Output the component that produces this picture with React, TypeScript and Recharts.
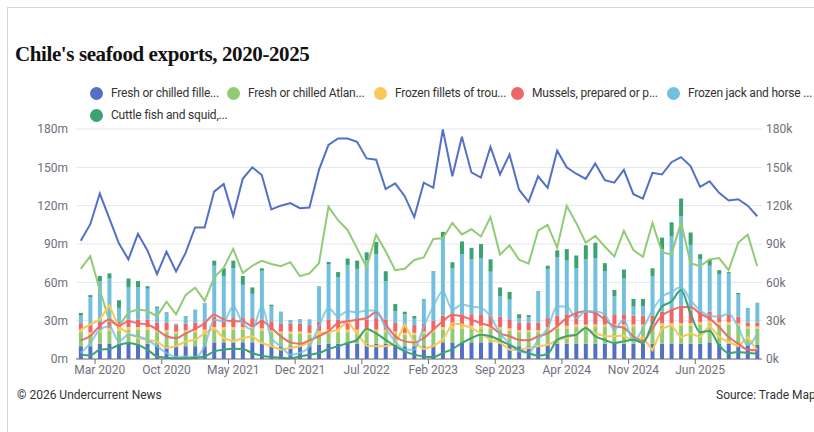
import React from 'react';
import { ComposedChart, Bar, Line, XAxis, YAxis, CartesianGrid } from 'recharts';

const MONTHS = ['Jan', 'Feb', 'Mar', 'Apr', 'May', 'Jun', 'Jul', 'Aug', 'Sep', 'Oct', 'Nov', 'Dec'];
const YEARS = [2020, 2021, 2022, 2023, 2024, 2025];
const categories = YEARS.flatMap((y) => MONTHS.map((m) => `${m} ${y}`));

const xTickLabels = ['Mar 2020', 'Oct 2020', 'May 2021', 'Dec 2021', 'Jul 2022', 'Feb 2023', 'Sep 2023', 'Apr 2024', 'Nov 2024', 'Jun 2025'];
const yTicks = [0, 30, 60, 90, 120, 150, 180];

const seriesNames = [
  'Fresh or chilled fille...',
  'Fresh or chilled Atlan...',
  'Frozen fillets of trou...',
  'Mussels, prepared or p...',
  'Frozen jack and horse ...',
  'Cuttle fish and squid,...',
];
const colors = ['#5470c6', '#91cc75', '#fac858', '#ee6666', '#73c0de', '#3ba272'];

// bars: volume (right axis, k)
const volFillets = [
  10, 10, 12, 12, 12, 12, 12, 12, 11, 10, 10, 10,
  10, 10, 13, 13, 13, 13, 13, 12, 11, 10, 10, 10,
  10, 11, 12, 12, 12, 12, 12, 12, 12, 11, 10, 10,
  10, 11, 13, 13, 13, 13, 13, 13, 12, 11, 10, 10,
  10, 11, 12, 12, 12, 12, 12, 12, 12, 12, 12, 12,
  12, 12, 12, 12, 12, 12, 13, 12, 12, 11, 11, 11,
];
const volAtlantic = [
  11, 9, 9, 10, 10, 11, 11, 11, 10, 11, 10, 11,
  11, 11, 10, 10, 10, 10, 10, 10, 10, 10, 10, 10,
  9, 9, 9, 9, 9, 9, 9, 9, 9, 9, 9, 9,
  10, 10, 10, 11, 11, 11, 11, 11, 11, 11, 11, 11,
  11, 12, 12, 12, 13, 13, 13, 13, 13, 13, 13, 13,
  13, 14, 14, 14, 14, 15, 15, 15, 15, 15, 13, 13,
];
const volTrout = [
  2, 2, 2, 2, 2, 2, 2, 2, 1.5, 1.5, 1.5, 1.5,
  1.5, 2, 2, 2, 2, 2, 2, 2, 1.5, 1.5, 1.5, 1.5,
  1.5, 2, 2, 2, 2, 2, 2, 2, 2, 1.5, 1.5, 1.5,
  1.5, 2, 2, 2, 2, 2, 2, 2, 2, 2, 1.5, 1.5,
  1.5, 2, 2, 2, 2, 2, 2, 2, 2, 2, 2, 2,
  2, 2, 2, 2, 2, 2, 2, 2, 2, 2, 1.5, 1.5,
];
const volMussels = [
  5, 6, 6, 5, 5, 6, 6, 6, 6, 6, 5, 5,
  6, 6, 8, 7, 7, 7, 7, 7, 7, 6, 6, 6,
  6, 7, 8, 8, 8, 8, 8, 9, 8, 7, 6, 6,
  6, 7, 9, 9, 9, 9, 9, 8, 8, 7, 6, 6,
  6, 7, 8, 9, 9, 9, 9, 8, 8, 8, 7, 7,
  7, 9, 11, 12, 10, 8, 7, 6, 6, 5, 3, 3,
];
const volJack = [
  6, 21.5, 32, 34, 11, 25, 25, 24, 11.5, 7.5, 0.5, 5.5,
  9.6, 14, 40, 33, 39, 26, 19, 38, 11.5, 9, 2.7, 3.5,
  4.2, 27.7, 43, 33, 42.6, 39.5, 46.5, 49.9, 29.7, 9, 8.5, 5.1,
  19, 38.2, 61.1, 36, 47, 43, 44, 34.3, 16.2, 15.5, 3.5, 4.3,
  24, 38.5, 45.5, 42, 35, 42, 43, 33.5, 14, 28, 7, 7.5,
  31, 49, 57.3, 71.6, 51.3, 41, 36, 31.5, 32, 17.4, 11, 15,
];
const volSquid = [
  2, 1.5, 4, 4, 6, 7, 5, 2, 1, 0.5, 0.5, 0.5,
  0.5, 0.5, 4, 6, 6, 7, 5, 2, 1.5, 0.5, 0.3, 0.3,
  0.3, 0.3, 2, 4, 5, 6.5, 6, 9.7, 8, 5.5, 2, 2,
  0.5, 0.5, 4.4, 4.7, 10, 9, 11, 9.7, 6.8, 6, 3, 1.5,
  0.5, 2.5, 5.5, 9, 10, 11, 12, 6.5, 5, 7, 6, 5.5,
  6, 9, 10.7, 14, 9.7, 4, 5, 3, 1, 1.3, 0.5, 0.5,
];

// lines: value (left axis, m)
const valFillets = [
  92.5, 105.5, 129.5, 110, 90.5, 78, 98, 85, 66.5, 84, 68.5, 83,
  103, 103, 131, 137, 112, 141, 150, 144, 117, 120, 122, 118,
  118.5, 148, 167.5, 172.6, 172.6, 170, 157, 156, 133, 137.5, 127.4, 111,
  138, 134, 179.6, 143, 174, 146, 142, 166, 144.5, 160, 132.5, 123,
  143, 134, 163, 150, 145, 141, 153, 140, 138, 148, 129, 125.5,
  145.7, 144.4, 154, 158, 151, 134.7, 139, 130, 124, 125, 120, 111.7,
];
const valAtlantic = [
  70.5, 80.5, 54, 30, 25.6, 36.6, 38.8, 37.7, 33.4, 44.8, 35, 50,
  55.8, 45.5, 63.7, 71.5, 86.2, 67.2, 73, 76.9, 74.3, 72.6, 75.8, 64.8,
  67, 75, 119.3, 108.6, 101, 86.6, 71.8, 97.2, 84.3, 69.5, 70.6, 77.5,
  79.5, 94, 94.5, 106.5, 97.5, 101.5, 95.8, 111, 81.7, 88.9, 77.8, 74.7,
  100.5, 105, 87, 120, 106.5, 91, 96.3, 88, 80.2, 100.3, 85.3, 80,
  106.5, 83.6, 81.7, 107, 75, 72.6, 78, 79, 69.5, 90.9, 97.4, 72.6,
];
const valTrout = [
  23, 27, 31, 42, 25, 20, 16.5, 15, 13.8, 8.6, 10, 13.8,
  15, 20, 24.3, 16.4, 13.8, 16.4, 17.8, 12.5, 10, 7.3, 8.6, 10,
  13, 20, 21, 23, 29.5, 20, 10.4, 10, 10, 12, 27, 13,
  7.8, 10, 15, 28, 27, 24.3, 20, 15, 13, 7.3, 7.3, 8.6,
  10, 11, 15, 16.4, 20, 24.3, 20, 17.8, 17.8, 18.3, 13.8, 17,
  6.8, 23.8, 26.4, 17, 20, 17, 26.4, 17, 13.3, 10, 17, 6.8,
];
const valMussels = [
  14.6, 18, 26, 31, 26, 29.5, 28, 27, 23, 17.8, 16.4, 20,
  23.5, 28, 34.7, 30.8, 29.5, 29.5, 25.6, 29.5, 24.3, 17.8, 13, 12,
  14.6, 17.8, 21.7, 28, 29.5, 30.8, 32, 36.5, 27, 17.8, 13.8, 13,
  16.4, 23, 29.5, 34.7, 33.4, 30.8, 28, 25.6, 20, 17.8, 15, 14.6,
  17.8, 20, 25.6, 32, 36, 37.3, 36, 30.8, 25.6, 24.3, 17.8, 14,
  23.8, 34, 38, 40.7, 40.7, 35.5, 31.6, 25, 17.2, 12, 7.3, 6.8,
];
const valJack = [
  4.7, 12.5, 23, 25.6, 13.8, 19, 17.8, 15, 10, 4.7, 1.5, 2,
  1.5, 10, 30.8, 29.5, 41, 28, 23, 41, 16.4, 10, 3.4, 4.7,
  10, 25.6, 40, 33.4, 37.3, 36.5, 38, 38, 24.3, 13.8, 7.3, 7.3,
  25.6, 41, 53, 38.6, 42.6, 41, 40, 33.4, 20, 12.5, 6, 4.7,
  15, 24, 41, 41, 32, 37.3, 37.3, 34.7, 23, 30.8, 13.8, 24,
  38, 48.6, 52.5, 56.4, 46, 38, 34, 33, 35.5, 25, 10.7, 19.8,
];
const valSquid = [
  3.4, 3, 7.3, 7.8, 11, 12.5, 11, 7.3, 2, 1, 0.5, 0.5,
  1, 2, 6, 7.3, 8, 7.8, 4.7, 2.6, 1.5, 1, 0.5, 2,
  3.4, 4.7, 7.8, 10, 12.5, 15, 23.5, 20, 15, 10, 6, 3.4,
  2, 1.5, 4.7, 7.8, 12.5, 16.4, 19, 17.8, 14.6, 11, 7.3, 4.7,
  2.6, 4, 15, 17.8, 19, 24.3, 17.8, 15, 12.5, 13.8, 15, 12.5,
  28, 41, 45, 54, 35.5, 21, 22, 10.7, 4.7, 5.5, 4.7, 4.2,
];

const volumes = [volFillets, volAtlantic, volTrout, volMussels, volJack, volSquid];
const values = [valFillets, valAtlantic, valTrout, valMussels, valJack, valSquid];
const smoothLine = [false, false, false, true, true, true];
const lineOpacity = [1, 1, 1, 0.95, 0.8, 1];

const data = categories.map((name, i) => {
  const row: Record<string, number | string> = { name };
  volumes.forEach((arr, s) => (row[`v${s}`] = arr[i]));
  values.forEach((arr, s) => (row[`l${s}`] = arr[i]));
  return row;
});

const W = 814;
const H = 432;
const PLOT_LEFT = 76;
const PLOT_RIGHT = 762;
const BAND = (PLOT_RIGHT - PLOT_LEFT) / categories.length;
const FONT = 'Roboto, "Noto Sans", sans-serif';

const XTick = (props: any) => {
  const { x, y, payload } = props;
  if (!xTickLabels.includes(payload.value)) return null;
  const axisY = y - 8;
  const tx = x - BAND / 2;
  return (
    <g>
      <line x1={tx} x2={tx} y1={axisY} y2={axisY + 5} stroke="#6E7079" />
      <text x={x} y={axisY + 15} textAnchor="middle" fill="#6E7079" fontSize={12} fontFamily={FONT}>
        {payload.value}
      </text>
    </g>
  );
};

const legendWidths = [137, 147, 137, 156, 140, 160];

function ChartLegend() {
  const rows = [seriesNames.slice(0, 5), seriesNames.slice(5)];
  return (
    <div style={{ position: 'absolute', left: 90, top: 82, fontFamily: FONT, fontSize: 12, color: '#333' }}>
      {rows.map((row, r) => (
        <div key={r} style={{ display: 'flex', height: 22, alignItems: 'center' }}>
          {row.map((n, k) => {
            const idx = r * 5 + k;
            return (
              <div key={n} style={{ display: 'flex', alignItems: 'center', width: legendWidths[idx] }}>
                <span
                  style={{
                    width: 13,
                    height: 13,
                    borderRadius: '50%',
                    background: colors[idx],
                    marginRight: 8,
                    flex: 'none',
                  }}
                />
                <span style={{ whiteSpace: 'nowrap', letterSpacing: -0.2 }}>{n}</span>
              </div>
            );
          })}
        </div>
      ))}
    </div>
  );
}

export default function App() {
  return (
    <div style={{ position: 'absolute', left: 0, top: 0, width: W, height: H, overflow: 'hidden', background: '#fff' }}>
      <div
        style={{
          position: 'absolute',
          left: 7,
          top: 7,
          width: 900,
          height: 500,
          borderLeft: '1px solid #d6d6d6',
          borderTop: '1px solid #d6d6d6',
        }}
      />
      <div
        style={{
          position: 'absolute',
          left: 15,
          top: 42,
          fontFamily: '"Liberation Serif", serif',
          fontWeight: 700,
          fontSize: 21,
          color: '#111',
          letterSpacing: -0.4,
        }}
      >
        Chile's seafood exports, 2020-2025
      </div>
      <ChartLegend />
      <div style={{ position: 'absolute', left: 0, top: 0 }}>
        <ComposedChart
          width={W}
          height={H}
          data={data}
          margin={{ top: 129, right: 0, bottom: 43, left: 16 }}
          barCategoryGap="30%"
        >
          <CartesianGrid yAxisId="left" vertical={false} stroke="#E0E6F1" />
          <XAxis
            dataKey="name"
            interval={0}
            height={30}
            tick={<XTick />}
            tickLine={false}
            axisLine={{ stroke: '#6E7079' }}
          />
          <YAxis
            yAxisId="left"
            orientation="left"
            width={60}
            domain={[0, 180]}
            ticks={yTicks}
            tickFormatter={(v) => `${v}m`}
            axisLine={false}
            tickLine={false}
            tick={{ fill: '#6E7079', fontSize: 12, fontFamily: FONT }}
          />
          <YAxis
            yAxisId="right"
            orientation="right"
            width={52}
            domain={[0, 180]}
            ticks={yTicks}
            tickSize={2}
            tickFormatter={(v) => `${v}k`}
            axisLine={false}
            tickLine={false}
            tick={{ fill: '#6E7079', fontSize: 12, fontFamily: FONT }}
          />
          {volumes.map((_, s) => (
            <Bar
              key={`v${s}`}
              dataKey={`v${s}`}
              yAxisId="right"
              stackId="vol"
              fill={colors[s]}
              isAnimationActive={false}
            />
          ))}
          {values.map((_, s) => (
            <Line
              key={`l${s}`}
              dataKey={`l${s}`}
              yAxisId="left"
              type={smoothLine[s] ? 'monotone' : 'linear'}
              stroke={colors[s]}
              strokeOpacity={lineOpacity[s]}
              strokeWidth={2}
              dot={false}
              activeDot={false}
              isAnimationActive={false}
            />
          ))}
        </ComposedChart>
      </div>
      <div style={{ position: 'absolute', left: 17, top: 388, fontFamily: FONT, fontSize: 12, color: '#333' }}>
        © 2026 Undercurrent News
      </div>
      <div style={{ position: 'absolute', left: 716, top: 388, fontFamily: FONT, fontSize: 12, color: '#333', whiteSpace: 'nowrap' }}>
        Source: Trade Map
      </div>
    </div>
  );
}
